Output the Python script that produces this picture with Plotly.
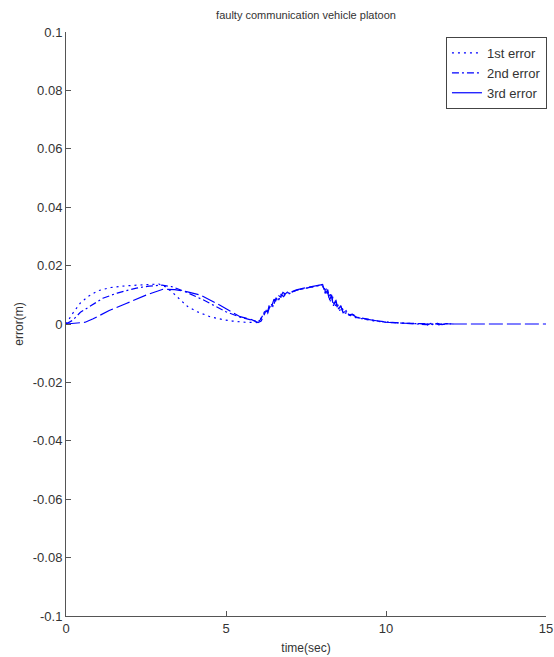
import plotly.graph_objects as go

# ---- data ----
t1 = [0, 0.2, 0.45, 0.7, 1.0, 1.4, 1.9, 2.4, 2.9, 3.1, 3.35, 3.6, 3.8, 4.1, 4.5, 4.9, 5.2, 5.6, 5.95,
      6.05, 6.15, 6.22, 6.3, 6.38, 6.45, 6.52, 6.6, 6.68, 6.75, 6.85, 6.95, 7.1, 7.3, 7.6, 7.85, 8.0,
      8.06, 8.12, 8.2, 8.26, 8.33, 8.4, 8.47, 8.55, 8.62, 8.7, 8.8, 8.9, 9.05, 9.3, 9.6, 10.0, 10.5,
      11.0, 11.2, 11.3, 11.4, 11.5, 11.6, 11.75, 11.9, 12.05]
e1 = [0, 0.0035, 0.0072, 0.0095, 0.0114, 0.0125, 0.0131, 0.0135, 0.0137, 0.0128, 0.0106, 0.0080, 0.0060,
      0.0042, 0.0025, 0.0015, 0.0010, 0.0006, 0.0005,
      0.0012, 0.0028, 0.0042, 0.0036, 0.0062, 0.0055, 0.0082, 0.0076, 0.0098, 0.0090, 0.0106, 0.0102,
      0.0112, 0.0118, 0.0124, 0.0129, 0.0134,
      0.0120, 0.0098, 0.0112, 0.0078, 0.0094, 0.0058, 0.0074, 0.0046, 0.0058, 0.0036, 0.0040, 0.0028,
      0.0022, 0.0017, 0.0011, 0.0006, 0.0003,
      0.0001, 0.0002, -0.0003, 0.0002, -0.0002, 0.0002, -0.0002, 0.0001, 0.0]

t2 = [0, 0.2, 0.45, 0.8, 1.15, 1.6, 2.2, 2.6, 3.0, 3.3, 3.7, 4.3, 4.7, 5.0, 5.4, 5.75, 6.0,
      6.08, 6.16, 6.24, 6.32, 6.4, 6.48, 6.56, 6.64, 6.72, 6.8, 6.9, 7.0, 7.15, 7.4, 7.7, 7.9, 8.02,
      8.08, 8.15, 8.22, 8.28, 8.35, 8.43, 8.5, 8.58, 8.66, 8.75, 8.85, 8.95, 9.1, 9.35, 9.7, 10.1, 10.6,
      11.0, 11.25, 11.35, 11.45, 11.55, 11.65, 11.8, 11.95, 12.1]
e2 = [0, 0.0012, 0.0040, 0.0065, 0.0088, 0.0106, 0.0123, 0.0130, 0.0133, 0.0128, 0.0112, 0.0082, 0.0060,
      0.0042, 0.0025, 0.0014, 0.0008,
      0.0015, 0.0032, 0.0050, 0.0044, 0.0068, 0.0062, 0.0088, 0.0080, 0.0101, 0.0094, 0.0108, 0.0105,
      0.0114, 0.0120, 0.0127, 0.0131, 0.0135,
      0.0112, 0.0122, 0.0088, 0.0104, 0.0066, 0.0084, 0.0050, 0.0064, 0.0040, 0.0046, 0.0031, 0.0034,
      0.0023, 0.0017, 0.0011, 0.0006, 0.0003,
      0.0001, -0.0002, 0.0003, -0.0002, 0.0002, -0.0003, 0.0002, 0.0, 0.0]

t3 = [0, 0.3, 0.6, 0.85, 1.35, 1.9, 2.5, 3.03, 3.4, 3.8, 4.2, 4.8, 5.44, 5.8, 6.0,
      6.1, 6.2, 6.25, 6.3, 6.35, 6.42, 6.5, 6.55, 6.62, 6.7, 6.78, 6.85, 6.95, 7.05, 7.2, 7.4, 7.6, 7.8,
      8.0, 8.05, 8.12, 8.18, 8.24, 8.3, 8.36, 8.42, 8.5, 8.58, 8.66, 8.75, 8.85, 8.95, 9.1, 9.3, 9.6,
      10.0, 10.5, 10.85, 11.0, 11.2, 11.3, 11.4, 11.5, 11.6, 11.75, 11.9, 12.1, 12.5, 13, 14, 15]
e3 = [0, 0.0003, 0.0006, 0.0018, 0.0046, 0.0071, 0.0099, 0.0119, 0.0118, 0.0110, 0.0099, 0.0065, 0.0025,
      0.0015, 0.0005,
      0.0010, 0.0030, 0.0045, 0.0040, 0.0065, 0.0058, 0.0085, 0.0078, 0.0100, 0.0092, 0.0108, 0.0103,
      0.0112, 0.0110, 0.0117, 0.0122, 0.0126, 0.0130,
      0.0135, 0.0133, 0.0105, 0.0118, 0.0082, 0.0100, 0.0062, 0.0080, 0.0048, 0.0062, 0.0038, 0.0045,
      0.0030, 0.0032, 0.0022, 0.0018, 0.0012,
      0.0006, 0.0003, 0.0002, 0.0001, 0.0001, -0.0003, 0.0002, -0.0002, 0.0002, -0.0002, 0.0001, 0.0,
      0.0, 0.0, 0.0, 0.0]

names = ["1st error", "2nd error", "3rd error"]
y_ticks = [0.1, 0.08, 0.06, 0.04, 0.02, 0, -0.02, -0.04, -0.06, -0.08, -0.1]
y_tick_text = ["0.1", "0.08", "0.06", "0.04", "0.02", "0", "-0.02", "-0.04", "-0.06", "-0.08", "-0.1"]
x_ticks = [0, 5, 10, 15]

BLUE = "#0000ff"
fig = go.Figure()
fig.add_trace(go.Scatter(x=t1, y=e1, mode="lines", name=names[0],
                         line=dict(color=BLUE, width=1.2, dash="2px,4px")))
fig.add_trace(go.Scatter(x=t2, y=e2, mode="lines", name=names[1],
                         line=dict(color=BLUE, width=1.2, dash="7px,3px,2px,3px")))
fig.add_trace(go.Scatter(x=t3, y=e3, mode="lines", name=names[2], showlegend=False,
                         line=dict(color=BLUE, width=1.2, dash="14px,4px")))
# legend entry for the 3rd error (drawn solid in the legend)
fig.add_trace(go.Scatter(x=[None], y=[None], mode="lines", name=names[2],
                         line=dict(color=BLUE, width=1.2)))

axis_color = "#555555"
fig.update_layout(
    width=554, height=657,
    margin=dict(l=66, r=8, t=32, b=41, autoexpand=False),
    paper_bgcolor="white", plot_bgcolor="white",
    font=dict(family="Liberation Sans, Arial, sans-serif", size=12, color="#333333"),
    title=dict(text="faulty communication vehicle platoon", x=(66 + 546) / 2 / 554, xanchor="center",
               y=1 - 15 / 657, yanchor="middle", font=dict(size=11, color="#333333")),
    showlegend=True,
    legend=dict(x=1.002, xanchor="right", y=1 - 5 / 584, yanchor="top",
                bgcolor="white", bordercolor="#444444", borderwidth=1,
                font=dict(size=13, color="#333333"), tracegroupgap=0,
                itemwidth=30),
    xaxis=dict(range=[0, 15], tickvals=x_ticks, ticks="inside", ticklen=5, tickcolor=axis_color,
               showline=True, linecolor=axis_color, linewidth=1, mirror=False,
               showgrid=False, zeroline=False, automargin=False,
               title=dict(text="time(sec)", standoff=9, font=dict(size=12)),
               tickfont=dict(size=13)),
    yaxis=dict(range=[-0.1, 0.1], tickvals=y_ticks, ticktext=y_tick_text, ticks="inside", ticklen=5,
               tickcolor=axis_color, showline=True, linecolor=axis_color, linewidth=1, mirror=False,
               showgrid=False, zeroline=False, automargin=False,
               title=dict(text="error(m)", standoff=6, font=dict(size=12)),
               tickfont=dict(size=13)),
)

fig.write_html("out.html")
